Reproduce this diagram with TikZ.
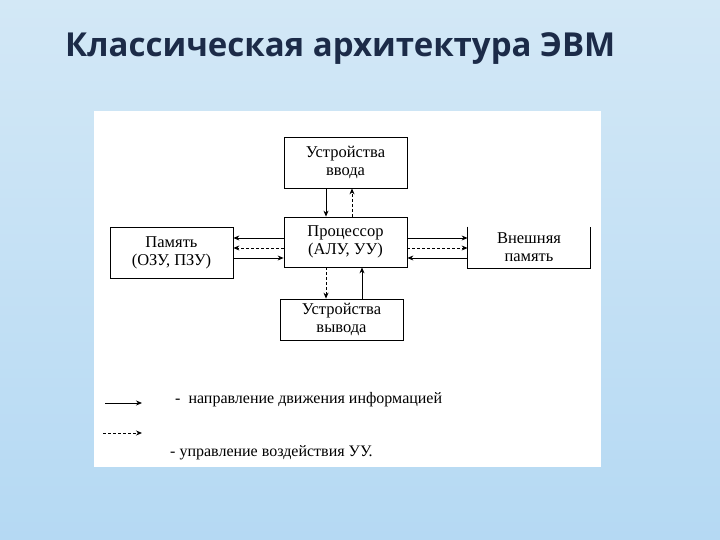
\documentclass[tikz,border=0pt]{standalone}
\usepackage{fontspec}
\setmainfont{Liberation Serif}
\newfontfamily\titlefont{Open Sans}
\usetikzlibrary{arrows.meta}

\definecolor{fonverh}{HTML}{D3E8F6}
\definecolor{fonsered}{HTML}{EAF5FC}
\definecolor{fonniz}{HTML}{B5D9F3}
\definecolor{zagolovok}{HTML}{1C2B48}

\tikzset{
	blok/.style={draw, line width=0.8pt, minimum width=123pt, align=center, inner sep=0pt, font=\fontsize{16.5}{18}\selectfont},
	info/.style={-{Stealth[length=6pt, width=5pt]}, line width=0.8pt},
	upr/.style={info, dash pattern=on 3pt off 2pt},
	legenda/.style={anchor=base west, inner sep=0pt, font=\fontsize{16}{18}\selectfont},
}

\begin{document}
\begin{tikzpicture}[x=1pt, y=-1pt]
		\useasboundingbox (0,0) rectangle (720,540);
		\shade[top color=fonverh, middle color=fonsered, bottom color=fonniz] (0,0) rectangle (720,540);
		\fill[white] (94,111) rectangle (601,467);

		\node[anchor=base west, inner sep=0pt, text=zagolovok, font=\titlefont\bfseries\fontsize{33}{36}\selectfont] (zag) at (65,57) {Классическая архитектура ЭВМ};

		\node[blok, minimum height=51pt] (vvod) at (345.5,162.5) {Устройства\\ввода};
		\node[blok, minimum height=50pt] (proc) at (345.5,242) {Процессор\\(АЛУ, УУ)};
		\node[blok, minimum height=51pt] (pam) at (171.5,252.5) {Память\\(ОЗУ, ПЗУ)};
		\node[blok, minimum height=41pt] (vyvod) at (341.5,319.5) {Устройства\\вывода};
		\node[blok, draw=none, minimum width=122pt, minimum height=41pt] (vnesh) at (529,247.5) {Внешняя\\память};
		\draw[line width=0.8pt] (vnesh.north west) -- (vnesh.south west) -- (vnesh.south east) -- (vnesh.north east);

		\draw[info] ([xshift=-19.5pt]vvod.south) to ([xshift=-19.5pt]vvod.south |- proc.north);
		\draw[upr] ([xshift=6.5pt]proc.north) to ([xshift=6.5pt]proc.north |- vvod.south);

		\draw[info] ([yshift=4pt]proc.west) to ([yshift=4pt]proc.west -| pam.east);
		\draw[upr] ([yshift=-6pt]proc.west) to ([yshift=-6pt]proc.west -| pam.east);
		\draw[info] ([yshift=-16pt]proc.west -| pam.east) to ([yshift=-16pt]proc.west);

		\draw[info] ([yshift=4pt]proc.east) to ([yshift=4pt]proc.east -| vnesh.west);
		\draw[upr] ([yshift=-6pt]proc.east) to ([yshift=-6pt]proc.east -| vnesh.west);
		\draw[info] ([yshift=-16pt]proc.east -| vnesh.west) to ([yshift=-16pt]proc.east);

		\draw[upr] ([xshift=-19.5pt]proc.south) to ([xshift=-19.5pt]proc.south |- vyvod.north);
		\draw[info] ([xshift=16.5pt]proc.south |- vyvod.north) to ([xshift=16.5pt]proc.south);

		\coordinate (l1a) at (105,403);
		\coordinate (l1b) at (142,403);
		\draw[info] (l1a) to (l1b);
		\node[legenda] (t1) at (175,403) {-\ \ направление движения информацией};

		\coordinate (l2a) at (103,433);
		\coordinate (l2b) at (142,433);
		\draw[upr] (l2a) to (l2b);
		\node[legenda] (t2) at (170,456) {- управление воздействия УУ.};
	\end{tikzpicture}
\end{document}
